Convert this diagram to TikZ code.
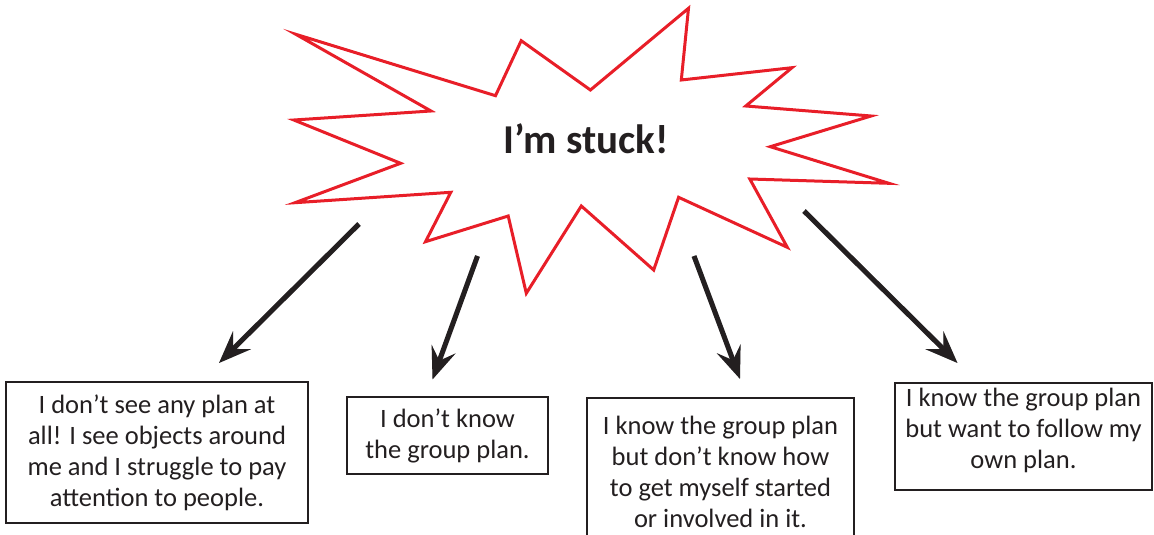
\documentclass[tikz,border=0pt]{standalone}
\usepackage{fontspec}
\setmainfont{Carlito}
\usetikzlibrary{arrows.meta}
\definecolor{stuckred}{RGB}{232,30,40}
\definecolor{ink}{RGB}{35,31,32}
\tikzset{
  plan/.style={draw=ink, line width=2pt, align=center, text=ink, inner sep=0pt,
    font=\fontsize{26.5}{31}\selectfont},
  push/.style={ink, line width=5pt, -{Stealth[length=32pt,width=25pt,inset=12pt]}},
  push shadow/.style={push, draw=black!35, opacity=0.5, shift={(1.5,1.5)}}
}
\begin{document}
\begin{tikzpicture}[x=1pt,y=-1pt]
\useasboundingbox (0,0) rectangle (1154,535);
% the burst
\draw[stuckred, line width=3pt, miter limit=25]
  (295.8,34.3) -- (495.5,95.7) -- (521.2,40.7) -- (590.4,90) -- (688.5,8.3)
  -- (681.3,80) -- (792,67.7) -- (745.8,106) -- (871.1,116) -- (770.3,146.7)
  -- (888.9,183.3) -- (749.8,179) -- (787.3,247.3) -- (678.6,197.3)
  -- (653.7,270) -- (581.3,206) -- (526.3,293.3) -- (508.2,216)
  -- (425.5,241.7) -- (450.8,192.3) -- (295,202.7) -- (400.6,163.3)
  -- (293.8,120) -- (431,111) -- cycle;
\node[font=\bfseries\fontsize{41}{41}\selectfont, text=ink, anchor=base] (stuck) at (586,153.5) {I’m stuck!};
% arrows
\coordinate (t1) at (359,224);   \coordinate (h1) at (219,363);
\coordinate (t2) at (477.5,256); \coordinate (h2) at (432.5,379.5);
\coordinate (t3) at (694,256);   \coordinate (h3) at (740,379);
\coordinate (t4) at (804,211);   \coordinate (h4) at (957.5,363);
\foreach \a in {1,...,4} {
  \draw[push shadow] (t\a) -- (h\a);
  \draw[push] (t\a) -- (h\a);
}
% the four answers
\node[plan, minimum width=302, minimum height=141] (noplan) at (157,452.5)
  {I don’t see any plan at\\ all! I see objects around\\ me and I struggle to pay\\ attention to people.};
\node[plan, minimum width=201, minimum height=77] (unknown) at (447.5,435.5)
  {I don’t know\\ the group plan.};
\node[plan, minimum width=267, minimum height=147] (nostart) at (720.5,471.5)
  {I know the group plan\\ but don’t know how\\ to get myself started\\ or involved in it.};
\node[plan, minimum width=257, minimum height=107] (ownplan) at (1023.5,436.5)
  {I know the group plan\\ but want to follow my\\ \raisebox{0pt}[\height][\dimexpr\depth+12pt]{own plan.}};
\end{tikzpicture}
\end{document}
